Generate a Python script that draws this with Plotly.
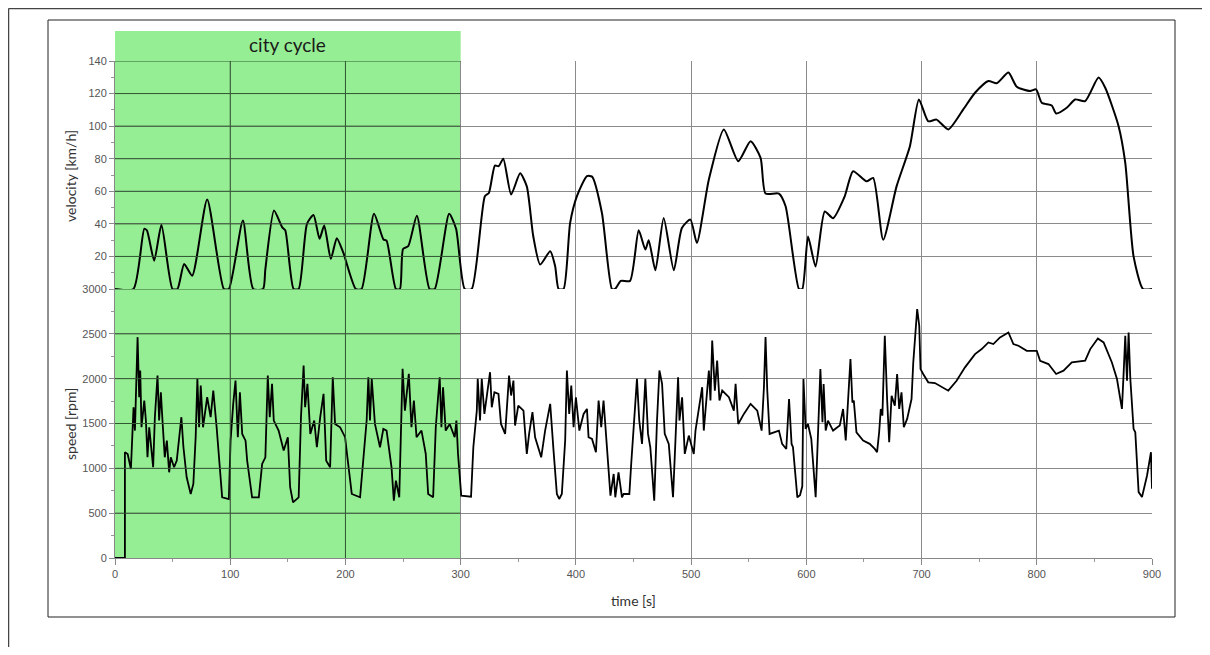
import plotly.graph_objects as go

# ---------------- data ----------------
vel_time = [0, 16, 25.4, 27.7, 34, 40.3, 49.9, 54.2, 60, 67, 80, 94.5, 98.8, 111, 120, 128.5,
            130.5, 138, 145, 147.8, 155, 159.4, 166.6, 172.3, 177.5, 181.6, 187.3, 192.5, 198,
            209, 214, 224.8, 233, 235.7, 243.8, 247.3, 250, 254.5, 262, 273, 277.5, 290, 296,
            303.5, 309.6, 321, 324.5, 329.7, 333, 337, 343.8, 351.6, 357.4, 363, 369, 377.7,
            382, 385, 389.3, 395, 400.9, 409.6, 414, 422.6, 431.3, 434, 439, 447, 454.5, 460.3,
            463.2, 469, 476.2, 485, 492, 499.4, 505, 515.4, 528.4, 540.9, 551.6, 560.3, 564.6,
            576.2, 582, 593.6, 596.5, 601.5, 608, 616, 623.2, 633.3, 640.6, 652.2, 658, 666.7,
            678.3, 689.9, 697.7, 705.8, 713, 723.2, 736.2, 746.4, 758, 765.2, 775.4, 782.6,
            794.2, 799.4, 804.3, 813, 816.8, 826, 833.3, 842, 853.6, 859.4, 871, 876.8, 884,
            892.2, 900]
velocity = [0, 0, 36.9, 36, 17.4, 39.4, 0, 0, 15.4, 8.2, 55, 0, 0, 42, 0, 0,
            12.3, 48.2, 38, 36, 0, 0, 40, 45.5, 30.8, 39, 18.5, 31.2, 22.6,
            0, 0, 46.2, 30.4, 29.7, 0, 0, 24.6, 26.3, 45, 0, 0, 46.2, 37,
            0, 0, 57, 59, 75.8, 75.4, 80, 58, 71, 63, 32.4, 15, 23.2,
            14, 0, 0, 40.6, 57, 69.3, 69, 46.7, 0, 0, 5, 5, 36, 24.2,
            30, 11.5, 43.6, 11.5, 37.5, 42.6, 28.3, 67.2, 98, 78.5, 90.8, 80.5, 58.6,
            58.6, 50.8, 0, 0, 32.2, 13.8, 47.6, 43.5, 56.9, 72.3, 66.1, 68.2, 30.2,
            63, 87.7, 116.4, 103, 104, 98, 110.3, 120.5, 127.7, 126.3, 132.9, 124.2,
            121.6, 122.6, 114.4, 112.7, 107.8, 111.3, 116.4, 115.4, 129.8, 123.6, 100, 77.4, 20,
            0, 0]

spd_time = [0, 8.6, 8.6, 11, 13.8, 14.4, 16.1, 17.3, 19.6, 21, 21.9, 23, 25.4, 26.8, 28.2, 29.7,
            31.1, 33.1, 34.6, 36.9, 38.3, 39.8, 41.2, 43.2, 45, 47, 48.4, 51.3, 53.6, 55.6,
            57.6, 59.4, 62.2, 65.7, 68, 70, 71.5, 73, 74.4, 76.4, 80, 83, 85.3, 88.2, 90.2,
            93, 98.8, 100.3, 102.6, 104.6, 106.6, 108.4, 110.4, 113.3, 114.7, 119, 124.8,
            127.7, 130.5, 132.6, 134.3, 136.3, 137.8, 142, 146.4, 150, 152, 154.5, 159.4,
            161.4, 163.7, 165, 167, 169.5, 172.9, 175.2, 178.1, 181, 183.3, 186.7, 189, 191,
            195.4, 199.7, 201.7, 205.5, 212.7, 215.6, 218.4, 219.9, 221.3, 222.8, 225.6, 230,
            232.9, 235.7, 240, 242, 243.8, 246.7, 248.7, 249.6, 251.6, 255, 257.3, 259.4,
            261.7, 266, 269.7, 271.8, 276.1, 278.4, 280.4, 281.8, 283.3, 284.7, 287, 290.5,
            294.8, 296.3, 297.7, 300.5, 309, 311, 314, 314.8, 316.8, 318.3, 320.6, 323.5,
            325.5, 327, 329.3, 332.8, 335, 338.6, 342, 343.8, 345.8, 347.2, 350, 354.5, 357.4,
            359.4, 362.3, 364.6, 369.9, 373.3, 377.7, 380.6, 383.5, 385.5, 387.8, 390.7, 392.2,
            394.2, 396, 398, 400, 403, 406.7, 409.6, 411, 414, 417.4, 419.7, 422, 424, 426,
            430, 432.8, 434.2, 437, 440, 441.4, 446.4, 448, 450, 453, 455, 457.4, 460.3, 462.6,
            464.6, 468, 470.4, 472.5, 474.8, 477.1, 480.6, 484.3, 486.4, 488.7, 489.9, 492.2,
            494.5, 498, 502.3, 503.8, 509.6, 511, 515.4, 516.8, 518.3, 520.6, 522.6, 524.6,
            527, 532.8, 537.1, 538.6, 540.9, 545.8, 551.6, 557.4, 561.2, 563.2, 564.6, 566.1,
            568.1, 576.2, 579, 582.6, 585, 587.2, 588.4, 592.2, 594.5, 596.5, 597.5, 599.4,
            601.4, 604.3, 608.1, 610.1, 612.2, 614, 615, 616.8, 618.8, 623.2, 629, 631.9,
            634.2, 638.3, 640, 641.2, 643.5, 649.3, 655, 659.4, 661.4, 663.2, 664.6, 666,
            668.1, 670.1, 671.9, 674, 676.8, 678.8, 680.6, 682.6, 684.6, 687.5, 691.3, 692.8,
            694.2, 696.2, 698, 699.1, 701.4, 705.8, 711.6, 716, 723.2, 730.4, 737.7, 746.4,
            752.2, 758, 762.3, 768.1, 775.4, 779.7, 784.1, 791.3, 800, 802.9, 810.1, 816.8,
            823.2, 830.4, 836.2, 842, 846.4, 853, 858, 865.2, 869.6, 873.9, 875.4, 876.8,
            878.3, 879.7, 881.2, 884, 885.5, 888.4, 891.3, 895.7, 899.1, 900]
speed = [0, 0, 1180, 1160, 993, 1235, 1681, 1421, 2463, 1793, 2090, 1458, 1756, 1533, 1123, 1458,
         1235, 1012, 1570, 2035, 1533, 1849, 1533, 1123, 1309, 956, 1123, 1012, 1086, 1347,
         1570, 1235, 900, 714, 826, 1347, 1998, 1458, 1923, 1458, 1793, 1570, 1867, 1458, 1161,
         677, 658, 1309, 1719, 1979, 1347, 1849, 1384, 1309, 1086, 677, 677,
         1049, 1123, 2035, 1570, 1942, 1533, 1421, 1198, 1347, 789, 621, 677,
         1570, 2146, 1681, 1942, 1384, 1533, 1235, 1570, 1830, 1086, 1012, 2016, 1495,
         1458, 1347, 1123, 714, 677, 1161, 1533, 2016, 1533, 1998, 1495, 1235,
         1440, 1421, 1012, 640, 863, 677, 1533, 2109, 1644, 2053, 1458, 1756,
         1347, 1421, 1161, 714, 677, 1458, 1793, 2016, 1458, 1905, 1421, 1495,
         1347, 1533, 1161, 696, 684, 1235, 1644, 1998, 1533, 1998, 1607, 1905,
         2072, 1681, 1849, 1830, 1495, 1384, 2035, 1812, 1979, 1477, 1700, 1644, 1161,
         1384, 1626, 1347, 1123, 1421, 1719, 1198, 714, 658, 714, 1309, 2091,
         1607, 1923, 1458, 1793, 1421, 1607, 1663, 1347, 1328, 1179, 1756, 1458, 1756, 1421,
         696, 937, 677, 956, 677, 714, 714, 1049, 1421, 1998, 1533, 1272, 1998, 1384,
         1235, 640, 1533, 2091, 1942, 1384, 1272, 677, 1309, 2016, 1533, 1793,
         1161, 1365, 1161, 1421, 1905, 1421, 2091, 1756, 2425, 1867, 2202, 1756,
         1867, 1793, 1644, 1942, 1495, 1607, 1719, 1644, 1421, 1905, 2463, 1867,
         1384, 1421, 1272, 1216, 1774, 1272, 1235, 677, 700, 800, 1996, 1440,
         1495, 1328, 679, 1440, 2107, 1514, 1940, 1421, 1532, 1421, 1477, 1662,
         1310, 2219, 1736, 1755, 1402, 1310, 1273, 1217, 1180, 1402, 1662, 1588,
         2478, 1773, 1291, 1810, 1699, 2052, 1662, 1848, 1458, 1551, 1773, 2181,
         2404, 2775, 2590, 2107, 2052, 1959, 1951, 1922, 1866, 1977, 2126, 2274,
         2330, 2404, 2386, 2460, 2515, 2386, 2367, 2311, 2311, 2200, 2163, 2052,
         2089, 2181, 2193, 2200, 2330, 2449, 2404, 2181, 1996, 1662, 2070, 2478,
         1977, 2515, 1996, 1440, 1402, 735, 679, 920, 1180, 772]

time_ticks = [0, 100, 200, 300, 400, 500, 600, 700, 800, 900]
vel_ticks = [20, 40, 60, 80, 100, 120, 140]
spd_ticks = [0, 500, 1000, 1500, 2000, 2500, 3000]
city_start, city_end = 0, 300
city_label = "city cycle"

# ---------------- figure geometry (screen pixels; page body has an 8px margin) ----------------
OFF = 8
W, H = 1210 - 2 * OFF, 655 - 2 * OFF
PLOT_L, PLOT_R, PLOT_T, PLOT_B = 115, 1152, 61, 558        # screen coords of plot area
ML, MT = PLOT_L - OFF, PLOT_T - OFF
MR, MB = W - (PLOT_R - OFF), H - (PLOT_B - OFF)
PW, PH = PLOT_R - PLOT_L, PLOT_B - PLOT_T


def px_x(px):
    return (px - PLOT_L) / PW


def px_y(py):
    return (PLOT_B - py) / PH


split = px_y(289)

GRID = "#8a8a8a"
DARKGRID = "#2f5a2f"
TICKFONT = dict(family="Liberation Sans, Arial, sans-serif", size=11, color="#555555")
TITLEFONT = dict(family="Lato, Open Sans, sans-serif", size=14, color="#333333")

fig = go.Figure()
fig.add_trace(go.Scatter(x=vel_time, y=velocity, mode="lines", xaxis="x2", yaxis="y2",
                         line=dict(color="black", width=2, shape="spline", smoothing=0.6),
                         showlegend=False, hoverinfo="skip"))
fig.add_trace(go.Scatter(x=spd_time, y=speed, mode="lines", xaxis="x", yaxis="y",
                         line=dict(color="black", width=1.8),
                         showlegend=False, hoverinfo="skip"))

axis_common = dict(showgrid=True, gridcolor=GRID, gridwidth=1, zeroline=False, tickfont=TICKFONT)

fig.update_layout(
    width=W, height=H,
    margin=dict(l=ML, r=MR, t=MT, b=MB, pad=0),
    paper_bgcolor="white", plot_bgcolor="rgba(0,0,0,0)",
    xaxis=dict(domain=[0, 1], range=[0, 900], anchor="y", tickvals=time_ticks,
               showline=True, linecolor="#888888", linewidth=1,
               ticks="outside", ticklen=6, tickcolor="#888888",
               minor=dict(ticks="outside", ticklen=3, dtick=50, tickcolor="#999999", showgrid=False),
               **axis_common),
    xaxis2=dict(domain=[0, 1], range=[0, 900], anchor="y2", matches="x", tickvals=time_ticks,
                showticklabels=False, showline=False, ticks="", **axis_common),
    yaxis=dict(domain=[0, split], range=[0, 3000], anchor="x", tickvals=spd_ticks,
               showline=True, linecolor="#888888", linewidth=1,
               ticks="outside", ticklen=5, tickcolor="#888888",
               minor=dict(ticks="outside", ticklen=3, dtick=250, tickcolor="#999999", showgrid=False),
               **axis_common),
    yaxis2=dict(domain=[split, 1], range=[0, 140], anchor="x2", tickvals=vel_ticks,
                showline=True, linecolor="#888888", linewidth=1,
                ticks="outside", ticklen=5, tickcolor="#888888",
                minor=dict(ticks="outside", ticklen=3, dtick=10, tickcolor="#999999", showgrid=False),
                **axis_common),
)

shapes = []
# outer frame lines (top & left)
frame_x = px_x(OFF + 0.5)
frame_y = px_y(OFF + 0.5)
shapes.append(dict(type="line", xref="paper", yref="paper", x0=frame_x, x1=px_x(OFF + W), y0=frame_y, y1=frame_y,
                   line=dict(color="#444444", width=1.5)))
shapes.append(dict(type="line", xref="paper", yref="paper", x0=frame_x, x1=frame_x, y0=frame_y, y1=px_y(OFF + H),
                   line=dict(color="#444444", width=1.5)))
# inner chart box
shapes.append(dict(type="rect", xref="paper", yref="paper", x0=px_x(48), x1=px_x(1175),
                   y0=px_y(617), y1=px_y(20), line=dict(color="#222222", width=1), layer="below"))
# green city-cycle band
shapes.append(dict(type="rect", xref="x", yref="paper", x0=city_start, x1=city_end,
                   y0=0, y1=px_y(31), fillcolor="#96ee94", line=dict(width=0), layer="below"))
# darker grid inside green band
for tv in time_ticks:
    if city_start < tv < city_end:
        shapes.append(dict(type="line", xref="x", yref="paper", x0=tv, x1=tv, y0=0, y1=1,
                           line=dict(color=DARKGRID, width=1), layer="above"))
for v in vel_ticks:
    shapes.append(dict(type="line", xref="x", yref="y2", x0=city_start, x1=city_end, y0=v, y1=v,
                       line=dict(color=DARKGRID, width=1), layer="above"))
for s in spd_ticks[1:]:
    shapes.append(dict(type="line", xref="x", yref="y", x0=city_start, x1=city_end, y0=s, y1=s,
                       line=dict(color=DARKGRID, width=1), layer="above"))
fig.update_layout(shapes=shapes)

fig.update_layout(annotations=[
    dict(text=city_label, xref="x", yref="paper", x=(city_start + city_end) / 2, y=px_y(44),
         showarrow=False, xanchor="center", yanchor="middle",
         font=dict(family="Lato, Open Sans, sans-serif", size=19, color="#1a1a1a")),
    dict(text="velocity [km/h]", xref="paper", yref="paper", x=px_x(70), y=px_y(176),
         showarrow=False, textangle=-90, xanchor="center", yanchor="middle", font=TITLEFONT),
    dict(text="speed [rpm]", xref="paper", yref="paper", x=px_x(70), y=px_y(424),
         showarrow=False, textangle=-90, xanchor="center", yanchor="middle", font=TITLEFONT),
    dict(text="time [s]", xref="paper", yref="paper", x=0.5, y=px_y(600),
         showarrow=False, xanchor="center", yanchor="middle", font=TITLEFONT),
])

fig.write_html("out.html")
